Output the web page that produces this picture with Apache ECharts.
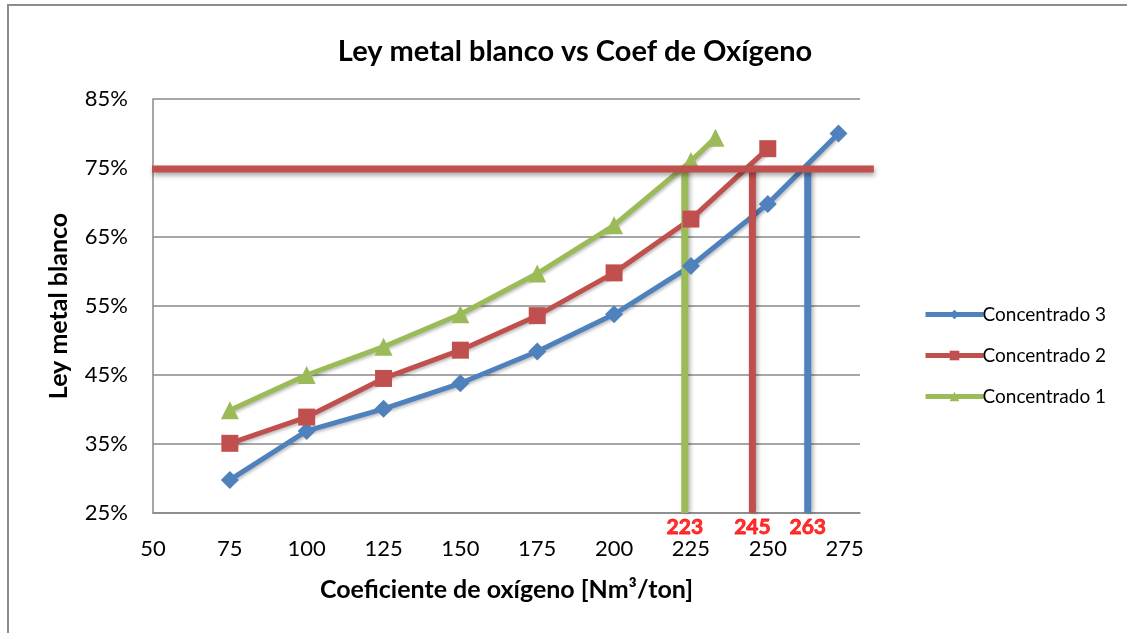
<!DOCTYPE html>
<html>
<head>
<meta charset="utf-8">
<script src="https://cdn.jsdelivr.net/npm/echarts@6/dist/echarts.min.js"></script>
<style>
  html, body { margin: 0; padding: 0; background: #ffffff; }
  #chart { width: 1127px; height: 633px; }
</style>
</head>
<body>
<div id="chart"></div>
<script>
// Oxygen coefficient [Nm3/ton] and white-metal grade [%] per concentrate
const conc3X = [75, 100, 125, 150, 175, 200, 225, 250, 273];
const conc3Y = [29.8, 36.9, 40.1, 43.8, 48.4, 53.8, 60.8, 69.8, 80.0];
const conc2X = [75, 100, 125, 150, 175, 200, 225, 250];
const conc2Y = [35.1, 38.9, 44.5, 48.6, 53.6, 59.8, 67.6, 77.8];
const conc1X = [75, 100, 125, 150, 175, 200, 225, 233];
const conc1Y = [39.9, 45.0, 49.1, 53.8, 59.7, 66.7, 76.0, 79.4];

// Target grade and the oxygen coefficient read for each concentrate
const targetGrade = 75;
const targetLineEnds = [50, 284.5];
const readNames = ['Concentrado 1', 'Concentrado 2', 'Concentrado 3'];
const readValues = [223, 245, 263];

const seriesNames = ['Concentrado 3', 'Concentrado 2', 'Concentrado 1'];
const COLORS = { 'Concentrado 3': '#4F81BD', 'Concentrado 2': '#C0504D', 'Concentrado 1': '#9BBB59' };
const FONT = 'Lato, "Open Sans", sans-serif';

const pairs = (xs, ys) => xs.map((x, i) => [x, ys[i]]);
const shadow = { shadowColor: 'rgba(0,0,0,0.25)', shadowBlur: 3, shadowOffsetX: 1, shadowOffsetY: 2 };

const dataSeries = [
  { name: 'Concentrado 3', data: pairs(conc3X, conc3Y), symbol: 'diamond', symbolSize: 18 },
  { name: 'Concentrado 2', data: pairs(conc2X, conc2Y), symbol: 'rect', symbolSize: 17 },
  { name: 'Concentrado 1', data: pairs(conc1X, conc1Y), symbol: 'triangle', symbolSize: 18 }
].map(s => ({
  type: 'line',
  name: s.name,
  data: s.data,
  symbol: s.symbol,
  symbolSize: s.symbolSize,
  showSymbol: true,
  z: 3,
  color: COLORS[s.name],
  lineStyle: Object.assign({ width: 5, color: COLORS[s.name] }, shadow),
  itemStyle: { color: COLORS[s.name] }
}));

// Vertical drop lines from the target down to the axis
const dropSeries = readValues.map((v, i) => ({
  type: 'line',
  name: 'lectura ' + readNames[i],
  data: [[v, targetGrade], [v, 25]],
  symbol: 'none',
  z: 3,
  lineStyle: { width: 7, color: COLORS[readNames[i]], shadowColor: 'rgba(0,0,0,0.3)', shadowBlur: 4, shadowOffsetX: 2, shadowOffsetY: 0 },
  silent: true
}));

// Red value labels under each drop line
const readLabels = {
  type: 'scatter',
  name: 'valores',
  data: readValues.map(v => [v, 25]),
  symbol: 'circle',
  symbolSize: 1,
  itemStyle: { color: 'rgba(0,0,0,0)' },
  z: 5,
  silent: true,
  label: {
    show: true,
    position: 'bottom',
    distance: 3,
    formatter: p => String(p.value[0]),
    color: '#FF0000',
    fontWeight: 'bold',
    fontSize: 21,
    fontFamily: FONT,
    textBorderColor: '#FF0000',
    textBorderWidth: 0.8
  },
  emphasis: { disabled: true }
};

const chart = echarts.init(document.getElementById('chart'), null, { renderer: 'canvas' });
chart.setOption({
  backgroundColor: '#ffffff',
  animation: false,
  title: {
    text: 'Ley metal blanco vs Coef de Oxígeno',
    left: 570,
    textAlign: 'center',
    top: 32,
    textStyle: { fontFamily: FONT, fontWeight: 'bold', fontSize: 29, color: '#000000' }
  },
  legend: {
    orient: 'vertical',
    left: 918,
    top: 300,
    itemWidth: 58,
    itemHeight: 12,
    itemGap: 22,
    data: seriesNames,
    lineStyle: { width: 5 },
    textStyle: { fontFamily: FONT, fontSize: 19, color: '#000000', padding: [0, 0, 0, -6] }
  },
  grid: { left: 153, top: 99, right: 267, bottom: 120, containLabel: false },
  xAxis: {
    type: 'value',
    min: 50,
    max: 280,
    interval: 25,
    name: 'Coeficiente de oxígeno [Nm³/ton]',
    nameLocation: 'middle',
    nameGap: 64,
    nameTextStyle: { fontFamily: FONT, fontWeight: 'bold', fontSize: 25, color: '#000000' },
    axisLine: { show: true, lineStyle: { color: '#888888', width: 1.5 } },
    axisTick: { show: false },
    splitLine: { show: false },
    axisLabel: { margin: 25, showMaxLabel: false, fontFamily: FONT, fontSize: 22, color: '#000000' }
  },
  yAxis: {
    type: 'value',
    min: 25,
    max: 85,
    interval: 10,
    name: 'Ley metal blanco',
    nameLocation: 'middle',
    nameGap: 82,
    nameTextStyle: { fontFamily: FONT, fontWeight: 'bold', fontSize: 25, color: '#000000' },
    axisLine: { show: true, lineStyle: { color: '#888888', width: 1.5 } },
    axisTick: { show: false },
    splitLine: { show: true, lineStyle: { color: '#888888', width: 1.5 } },
    axisLabel: { margin: 25, formatter: '{value}%', fontFamily: FONT, fontSize: 22, color: '#000000' }
  },
  series: [...dataSeries, ...dropSeries, readLabels]
});

// Thick horizontal target line at 75 %, positioned through the axis scales;
// it runs a little past the right edge of the plot area.
const p0 = chart.convertToPixel({ gridIndex: 0 }, [targetLineEnds[0], targetGrade]);
const p1 = chart.convertToPixel({ gridIndex: 0 }, [targetLineEnds[1], targetGrade]);
chart.setOption({
  graphic: [
    {
      type: 'rect',
      shape: { x: 8, y: 5, width: 1140, height: 650 },
      style: { fill: 'none', stroke: '#8C8C8C', lineWidth: 2 },
      silent: true,
      z: -1
    },
    {
      type: 'line',
      shape: { x1: p0[0] - 1, y1: p0[1] + 1, x2: p1[0], y2: p1[1] + 1 },
      style: { stroke: '#C0504D', lineWidth: 7, shadowColor: 'rgba(0,0,0,0.35)', shadowBlur: 5, shadowOffsetX: 1, shadowOffsetY: 3 },
      silent: true,
      z: 4
    }
  ]
});
</script>
</body>
</html>
